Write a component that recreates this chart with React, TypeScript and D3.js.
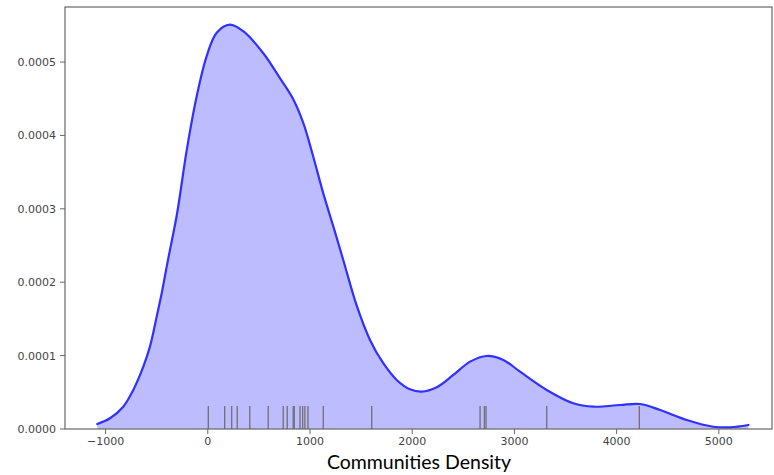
import React from "react";
import * as d3 from "d3";

const densityX = [-1081, -957, -827, -729, -631, -566, -500, -451, -402, -370, -300, -206, -109, -11, 87, 217, 347, 543, 706, 837, 934, 1032, 1130, 1228, 1326, 1457, 1587, 1717, 1848, 1978, 2093, 2240, 2402, 2566, 2729, 2891, 3055, 3316, 3576, 3772, 4033, 4229, 4425, 4686, 4946, 5110, 5289];
const densityY = [0.0000068, 0.0000146, 0.0000304, 0.0000532, 0.0000849, 0.0001122, 0.0001531, 0.000185, 0.0002213, 0.000244, 0.000294, 0.000380, 0.000453, 0.000508, 0.000540, 0.000551, 0.000542, 0.000512, 0.000478, 0.000449, 0.000417, 0.000371, 0.000321, 0.000276, 0.000230, 0.000168, 0.0001214, 0.0000896, 0.0000668, 0.0000541, 0.0000509, 0.0000569, 0.0000736, 0.0000918, 0.0000995, 0.0000941, 0.0000781, 0.0000532, 0.000035, 0.0000304, 0.0000327, 0.0000341, 0.0000259, 0.0000123, 0.0000031, 0.0000023, 0.0000055];
const rugValues = [5, 165, 234, 288, 411, 591, 738, 777, 836, 846, 902, 928, 950, 980, 1130, 1604, 2664, 2706, 2722, 3316, 4222];
const xTicks = [-1000, 0, 1000, 2000, 3000, 4000, 5000];
const yTicks = [0, 0.0001, 0.0002, 0.0003, 0.0004, 0.0005];
const xLabel = "Communities Density";

export default function App() {
  const W = 774, H = 475;
  const L = 65, R = 772, T = 7, B = 429;
  const x = d3.scaleLinear().domain([-1397, 5520]).range([L, R]);
  const y = d3.scaleLinear().domain([0, 0.000575]).range([B, T]);
  const pts: [number, number][] = densityX.map((v, i) => [v, densityY[i]]);
  const curve = d3.curveCatmullRom.alpha(0.5);
  const line = d3.line<[number, number]>().x(d => x(d[0])).y(d => y(d[1])).curve(curve);
  const area = d3.area<[number, number]>().x(d => x(d[0])).y0(y(0)).y1(d => y(d[1])).curve(curve);
  const fmtX = (v: number) => (v < 0 ? "\u2212" + Math.abs(v) : String(v));
  const tickColor = "#444";
  return (
    <svg width={W} height={H} style={{ position: "absolute", left: 0, top: 0, background: "#fff" }}>
      <path d={area(pts) || ""} fill="#bcbcff" stroke="none" />
      {rugValues.map((v, i) => (
        <line key={i} x1={x(v)} x2={x(v)} y1={B - 23} y2={B} stroke="#707070" strokeWidth={1.3} />
      ))}
      <path d={line(pts) || ""} fill="none" stroke="#3030ff" strokeWidth={2.2} strokeLinecap="round" />
      <rect x={L} y={T} width={R - L} height={B - T} fill="none" stroke="#666" strokeWidth={1.2} />
      {xTicks.map(t => (
        <g key={t}>
          <line x1={x(t)} x2={x(t)} y1={B} y2={B + 5} stroke="#666" />
          <text x={x(t)} y={B + 16} textAnchor="middle" fontFamily="DejaVu Sans" fontSize={11} fill={tickColor}>{fmtX(t)}</text>
        </g>
      ))}
      {yTicks.map(t => (
        <g key={t}>
          <line x1={L - 5} x2={L} y1={y(t)} y2={y(t)} stroke="#666" />
          <text x={L - 9} y={y(t) + 4} textAnchor="end" fontFamily="DejaVu Sans" fontSize={11} fill={tickColor}>{t.toFixed(4)}</text>
        </g>
      ))}
      <text x={419} y={469} textAnchor="middle" fontFamily="Lato" fontSize={19.5} fill="#000">{xLabel}</text>
    </svg>
  );
}
